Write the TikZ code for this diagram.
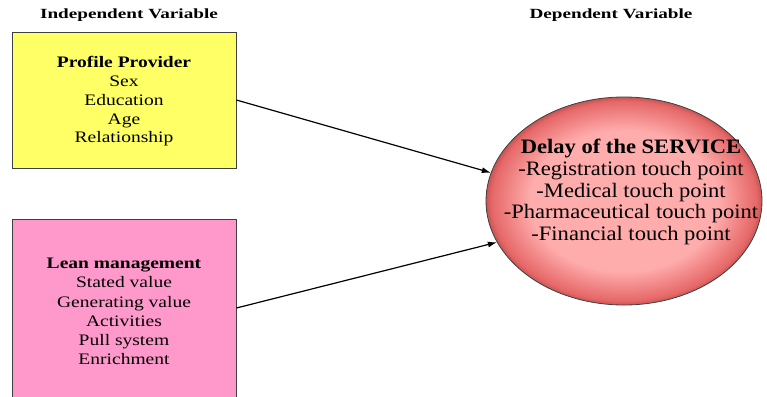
\documentclass[tikz,border=0pt]{standalone}
\usepackage{fontspec}
\setmainfont{Liberation Serif}
\newfontfamily\hdfont[FakeStretch=1.37]{Liberation Serif}
\newfontfamily\boxfont[FakeStretch=1.22]{Liberation Serif}
\newfontfamily\ellfont[FakeStretch=1.1]{Liberation Serif}
\usetikzlibrary{shapes.geometric,arrows.meta}
\definecolor{boxyellow}{RGB}{255,255,102}
\definecolor{boxpink}{RGB}{255,153,204}
\definecolor{ellin}{RGB}{255,172,172}
\definecolor{ellout}{RGB}{230,104,104}
\definecolor{ellrim}{RGB}{200,84,84}
\definecolor{edge}{RGB}{64,64,64}
\pgfdeclareradialshading{ellshade}{\pgfpoint{0bp}{0bp}}{color(0bp)=(ellin); color(17bp)=(ellin); color(24bp)=(ellout); color(25bp)=(ellrim); color(50bp)=(ellrim)}
\begin{document}
\begin{tikzpicture}[x=1pt,y=-1pt,
  hd/.style={font=\hdfont\bfseries\fontsize{14}{16}\selectfont, inner sep=0pt},
  varbox/.style={draw=edge, line width=0.8pt, minimum width=224pt, inner sep=0pt},
  boxtext/.style={align=center, inner sep=0pt, font=\boxfont\fontsize{16}{#1}\selectfont},
  conn/.style={-{Latex[length=9pt,width=6pt]}, line width=1.2pt}]
\useasboundingbox (0,0) rectangle (767,396);
\fill[white] (0,0) rectangle (767,396);
\node[hd] (ih) at (129,15) {Independent Variable};
\node[hd] (dh) at (611,15) {Dependent Variable};
\node[varbox, fill=boxyellow, minimum height=136pt] (pp) at (124,100) {};
\node[boxtext=18.75] (ppt) at (124,101.5)
  {\textbf{Profile Provider}\\Sex\\Education\\Age\\Relationship};
\node[varbox, fill=boxpink, minimum height=178pt] (lm) at (124,308) {};
\node[boxtext=19.2] (lmt) at (124,311.5)
  {\textbf{Lean management}\\Stated value\\Generating value\\Activities\\Pull system\\Enrichment};
\node[ellipse, draw=edge, line width=0.8pt, shading=ellshade, minimum width=276pt,
  minimum height=208pt, inner sep=0pt] (ds) at (624,201) {};
\node[align=center, inner sep=0pt, font=\ellfont\fontsize{20.5}{21.75}\selectfont] (dt) at (631,192)
  {\textbf{Delay of the SERVICE}\\-Registration touch point\\-Medical touch point\\-Pharmaceutical touch point\\-Financial touch point};
\draw[conn] (pp.east) -- (ds.168);
\draw[conn] (lm.east) -- (ds.198);
\end{tikzpicture}
\end{document}
